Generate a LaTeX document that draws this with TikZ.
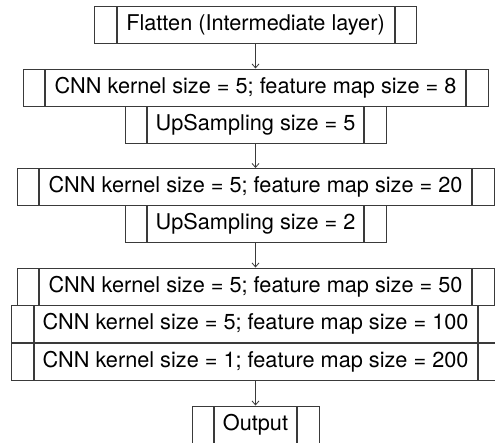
\documentclass[tikz,border=0pt]{standalone}
\usepackage{fontspec}
\setmainfont{TeX Gyre Heros}
\usetikzlibrary{arrows.meta}
\definecolor{linec}{HTML}{3A3A3A}
\newcommand{\lfs}{\fontsize{21.7}{26}\selectfont}
\tikzset{
  layer/.style={draw=linec, line width=1pt, minimum height=37pt, inner sep=0pt, font=\lfs, text=black},
  side/.style={draw=linec, line width=1pt, minimum height=37pt, minimum width=21.5pt, inner sep=0pt},
  arr/.style={draw=linec, line width=0.8pt, -{Straight Barb[length=4pt,width=7pt]}},
}
\newcommand{\sides}[1]{%
  \node[side, anchor=east] (#1L) at (#1.west) {};
  \node[side, anchor=west] (#1R) at (#1.east) {};}
\begin{document}
\begin{tikzpicture}[x=1pt,y=-1pt]
\useasboundingbox (0,0) rectangle (495,442);
\node[layer, minimum width=277pt] (flat) at (255.5,24.5) {Flatten (Intermediate layer)};
\sides{flat}
\node[layer, minimum width=420pt] (cnnA) at (255.5,87.5) {CNN kernel size = 5; feature map size = 8};
\sides{cnnA}
\node[layer, minimum width=216pt] (upA) at (255.5,124.5) {UpSampling size = 5};
\sides{upA}
\node[layer, minimum width=432pt] (cnnB) at (255.5,187) {CNN kernel size = 5; feature map size = 20};
\sides{cnnB}
\node[layer, minimum width=216pt] (upB) at (255.5,223.5) {UpSampling size = 2};
\sides{upB}
\node[layer, minimum width=432pt] (cnnC) at (255.5,286.5) {CNN kernel size = 5; feature map size = 50};
\sides{cnnC}
\node[layer, minimum width=443pt] (cnnD) at (255.5,324) {CNN kernel size = 5; feature map size = 100};
\sides{cnnD}
\node[layer, minimum width=443pt] (cnnE) at (255.5,361.5) {CNN kernel size = 1; feature map size = 200};
\sides{cnnE}
\node[layer, minimum width=82pt] (out) at (255.5,424.5) {Output};
\sides{out}
\draw[arr] (flat.south) -- (cnnA.north);
\draw[arr] (upA.south) -- (cnnB.north);
\draw[arr] (upB.south) -- (cnnC.north);
\draw[arr] (cnnE.south) -- (out.north);
\end{tikzpicture}
\end{document}
